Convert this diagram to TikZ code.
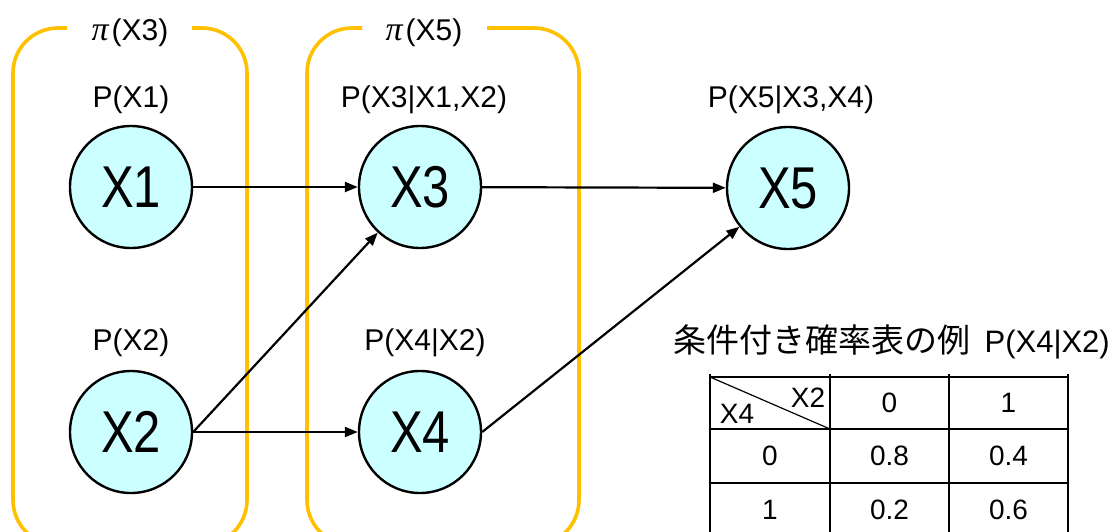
\documentclass[tikz,border=0pt]{standalone}
\usepackage{fontspec}
\usepackage{graphicx}
\setmainfont{Liberation Sans}
\newfontfamily\jp{Noto Sans CJK JP}
\newfontfamily\piserif{Liberation Serif}
\usetikzlibrary{arrows.meta}
\definecolor{frameorange}{HTML}{FFC000}
\definecolor{nodefill}{HTML}{CCFFFF}
\tikzset{
  var/.style={circle, draw=black, line width=2.4pt, fill=nodefill, minimum size=122pt, inner sep=0pt,
    font=\fontsize{59}{61}\selectfont},
  lbl/.style={inner sep=0pt, font=\fontsize{30}{32}\selectfont},
  pilbl/.style={inner sep=0pt, font=\fontsize{30}{32}\selectfont},
  frame/.style={draw=frameorange, line width=3.6pt, rounded corners=45pt},
  edge/.style={line width=2.2pt, -{Triangle[length=13pt,width=10pt]}},
  cell/.style={inner sep=0pt, font=\fontsize{28}{30}\selectfont},
  grid/.style={line width=2.4pt}
}
\newcommand{\narrow}[1]{\scalebox{0.83}[1]{#1}}
\newcommand{\pisym}{{\piserif\itshape\fontsize{34}{36}\selectfont π}}
\begin{document}
\begin{tikzpicture}[x=1pt, y=-1pt]
\useasboundingbox (0,0) rectangle (1112,531);
\clip (0,0) rectangle (1112,531);
% frames
\draw[frame] (67,28) -| (13,545) -| (247,28) -- (192,28);
\draw[frame] (362,28) -| (307,545) -| (579,28) -- (487,28);
\node[pilbl] (pi3) at (130,33) {\pisym\hspace{3pt}(X3)};
\node[pilbl] (pi5) at (424,33) {\pisym\hspace{3pt}(X5)};
% nodes
\node[var] (x1) at (131,187) {\narrow{X1}};
\node[var] (x3) at (420,187) {\narrow{X3}};
\node[var] (x5) at (788,188) {\narrow{X5}};
\node[var] (x2) at (131,432) {\narrow{X2}};
\node[var] (x4) at (420,432) {\narrow{X4}};
% labels
\node[lbl] (p1) at (131,100) {P(X1)};
\node[lbl] (p3) at (424,100) {P(X3|X1,X2)};
\node[lbl] (p5) at (791,100) {P(X5|X3,X4)};
\node[lbl] (p2) at (131,343) {P(X2)};
\node[lbl] (p4) at (425,343) {P(X4|X2)};
% edges
\draw[edge] (x1) -- (x3);
\draw[edge] (x3) -- (x5);
\draw[edge] (x2.east) -- (x3);
\draw[edge] (x2) -- (x4);
\draw[edge] (x4.east) -- (x5);
% table
\node[lbl, anchor=east] (title) at (1110,342) {{\jp\fontsize{33}{35}\selectfont 条件付き確率表の例}\hspace{14pt}{\fontsize{31}{33}\selectfont P(X4|X2)}};
\draw[grid] (710,377) -- (1068,377);
\draw[grid] (710,429) -- (1068,429);
\draw[grid] (710,483) -- (1068,483);
\draw[grid] (710,537) -- (1068,537);
\draw[grid] (710,374) -- (710,545);
\draw[grid] (830,374) -- (830,545);
\draw[grid] (949,374) -- (949,545);
\draw[grid] (1068,374) -- (1068,545);
\draw[line width=1.2pt] (710,377) -- (830,429);
\node[cell] (hx2) at (808,398) {X2};
\node[cell] (hx4) at (737,414) {X4};
\node[cell] (h0) at (889.5,403) {0};
\node[cell] (h1) at (1008.5,403) {1};
\node[cell] (r0) at (770,456) {0};
\node[cell] (r08) at (889.5,456) {0.8};
\node[cell] (r04) at (1008.5,456) {0.4};
\node[cell] (r1) at (770,510) {1};
\node[cell] (r02) at (889.5,510) {0.2};
\node[cell] (r06) at (1008.5,510) {0.6};
\end{tikzpicture}
\end{document}
